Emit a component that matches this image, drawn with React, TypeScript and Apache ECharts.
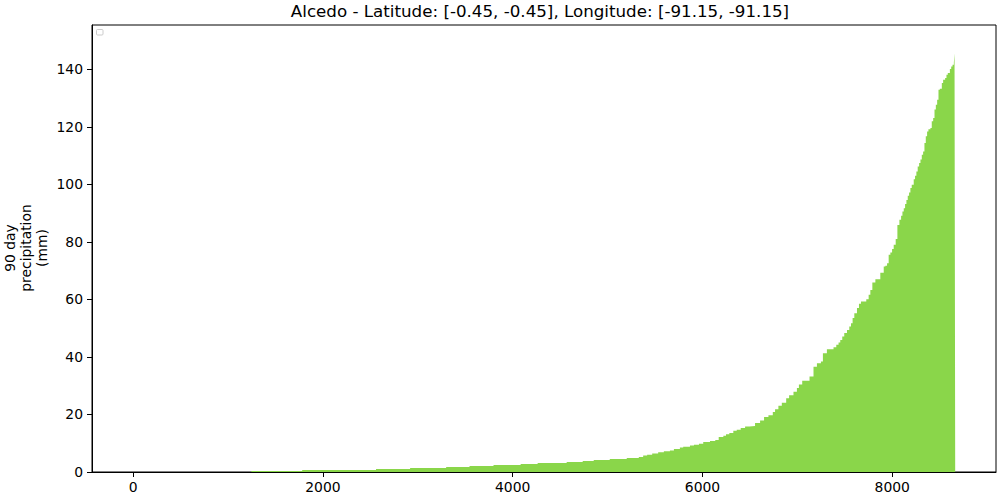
import { useEffect, useRef } from "react";
import * as echarts from "echarts";

// sorted 90-day precipitation: each step starts at stepX and holds stepY until the next step
const stepX = [
  1246, 1782, 2560, 2919, 3299, 3545, 3798, 4084, 4263, 4569, 4738, 4854, 5023, 5202, 5329,
  5375, 5417, 5470, 5533, 5593, 5657, 5699, 5762, 5797, 5868, 5910, 5963, 6008, 6079, 6135,
  6171, 6220, 6248, 6283, 6325, 6361, 6403, 6449, 6494, 6554, 6607, 6649, 6695, 6741, 6765,
  6800, 6836, 6882, 6913, 6959, 6995, 7016, 7051, 7128, 7170, 7206, 7248, 7269, 7311, 7381,
  7410, 7434, 7452, 7473, 7494, 7523, 7547, 7565, 7582, 7600, 7628, 7649, 7670, 7726, 7751,
  7769, 7790, 7822, 7874, 7910, 7927, 7945, 7962, 7980, 7998, 8015, 8036, 8054, 8075, 8093,
  8107, 8121, 8135, 8149, 8163, 8177, 8191, 8205, 8226, 8240, 8254, 8268, 8283, 8297, 8311,
  8325, 8339, 8353, 8367, 8381, 8402, 8416, 8431, 8445, 8459, 8473, 8487, 8501, 8522, 8536,
  8557, 8571, 8585, 8607, 8621, 8635, 8649, 8656, 8663,
];
const stepY = [
  0.35, 0.7, 1.04, 1.39, 1.74, 2.09, 2.43, 2.78, 3.13, 3.48, 3.83, 4.18, 4.5, 4.87, 5.2,
  5.7, 6.0, 6.4, 6.85, 7.2, 7.5, 8.0, 8.5, 8.8, 9.2, 9.5, 9.85, 10.4, 10.8, 11.1,
  12.2, 12.6, 13.1, 13.6, 14.3, 14.7, 15.3, 15.8, 16.0, 17.0, 17.9, 19.1, 19.7, 20.9, 21.8,
  23.0, 24.1, 25.6, 26.7, 27.9, 29.2, 30.4, 31.7, 33.2, 36.6, 37.8, 38.4, 41.3, 42.7, 43.4,
  44.2, 45.0, 45.9, 47.1, 48.3, 49.4, 50.6, 51.7, 53.5, 55.2, 57.0, 58.5, 59.3, 60.1, 61.6,
  63.3, 65.9, 67.0, 69.3, 71.4, 71.7, 72.6, 75.5, 76.3, 77.5, 79.0, 81.0, 85.9, 87.7, 89.1,
  90.6, 91.7, 93.2, 94.6, 96.0, 97.2, 98.7, 99.9, 101.8, 103.0, 104.5, 106.2, 107.4, 108.6, 110.3,
  111.4, 114.4, 116.7, 118.4, 119.2, 119.6, 121.9, 123.1, 126.0, 127.7, 129.4, 132.9, 133.2, 135.2, 136.4,
  137.0, 138.1, 138.7, 140.1, 141.0, 141.6, 142.4, 145.5, 145.5,
];
const xTicks = [0, 2000, 4000, 6000, 8000];
const yTicks = [0, 20, 40, 60, 80, 100, 120, 140];

const title = "Alcedo - Latitude: [-0.45, -0.45], Longitude: [-91.15, -91.15]";
const yLabel = "90 day\nprecipitation\n(mm)";

const FONT = "DejaVu Sans, sans-serif";

export default function App(): React.ReactElement {
  const ref = useRef<HTMLDivElement | null>(null);

  useEffect(() => {
    const el = ref.current;
    if (el === null) return;
    const chart = echarts.init(el, null, { renderer: "svg" });

    const tickLabel = {
      color: "#000",
      fontFamily: FONT,
      fontSize: 13.9,
      formatter: (v: number) => String(v),
    };

    chart.setOption({
      animation: false,
      backgroundColor: "#fff",
      title: {
        text: title,
        left: 540,
        top: 2,
        padding: 0,
        textAlign: "center",
        textStyle: { fontFamily: FONT, fontSize: 16.7, fontWeight: "normal", color: "#000" },
      },
      grid: {
        left: 92,
        right: 4,
        top: 25,
        bottom: 28,
        show: true,
        borderColor: "#000",
        borderWidth: 1,
        backgroundColor: "transparent",
      },
      xAxis: {
        type: "value",
        min: -433,
        max: 9093,
        axisLine: { show: true, onZero: false, lineStyle: { color: "#000", width: 1 } },
        axisTick: { show: true, length: 5, lineStyle: { color: "#000" }, customValues: xTicks },
        axisLabel: { ...tickLabel, margin: 8, customValues: xTicks },
        splitLine: { show: false },
      },
      yAxis: {
        type: "value",
        min: 0,
        max: 155.4,
        axisLine: { show: true, onZero: false, lineStyle: { color: "#000", width: 1 } },
        axisTick: { show: true, length: 5, lineStyle: { color: "#000" }, customValues: yTicks },
        axisLabel: { ...tickLabel, margin: 9, customValues: yTicks },
        splitLine: { show: false },
      },
      graphic: [
        {
          type: "rect",
          shape: { x: 96.5, y: 29.5, width: 6.5, height: 5.5, r: 1 },
          style: { fill: "#fff", stroke: "#cccccc", lineWidth: 1 },
        },
        {
          type: "text",
          x: 26,
          y: 248,
          rotation: Math.PI / 2,
          style: {
            text: yLabel,
            fontFamily: FONT,
            fontSize: 13.9,
            lineHeight: 16,
            fill: "#000",
            align: "center",
            verticalAlign: "middle",
          },
        },
      ],
      series: [
        {
          type: "line",
          step: "end",
          symbol: "none",
          data: stepX.map((x, i) => [x, stepY[i]]),
          lineStyle: { width: 0 },
          areaStyle: { color: "#8AD64A", opacity: 1 },
          silent: true,
        },
      ],
    });

    return () => {
      chart.dispose();
    };
  }, []);

  return (
    <div
      ref={ref}
      style={{ position: "fixed", left: 0, top: 0, width: 1000, height: 500 }}
    />
  );
}
